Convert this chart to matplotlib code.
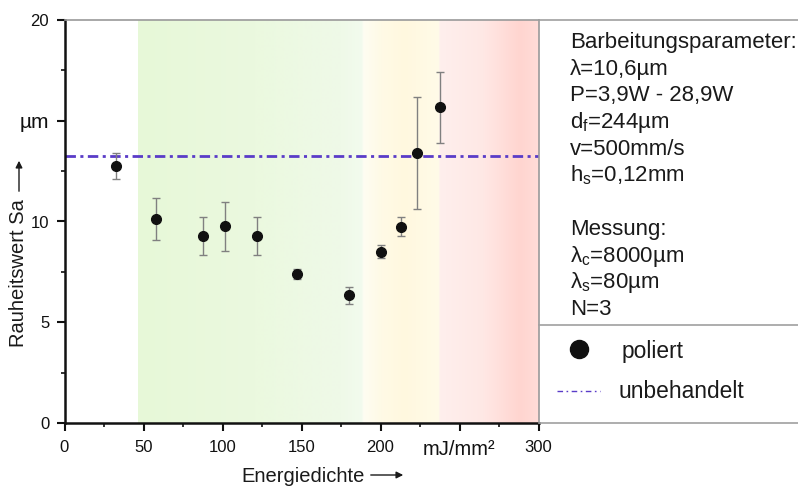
import numpy as np
import matplotlib
matplotlib.use("Agg")
import matplotlib.pyplot as plt
from matplotlib.lines import Line2D
from matplotlib.colors import to_rgb

plt.rcParams['font.family'] = ['Liberation Sans', 'DejaVu Sans']
plt.rcParams['mathtext.fontset'] = 'custom'
plt.rcParams['mathtext.rm'] = 'Liberation Sans'
plt.rcParams['lines.scale_dashes'] = False

# ---------------- data ----------------
energy = [32.4, 58.1, 87.8, 101.4, 122.0, 147.0, 179.9, 200.1, 213.2, 222.9, 237.4]
sa_polished = [12.77, 10.11, 9.27, 9.76, 9.27, 7.39, 6.35, 8.50, 9.74, 13.40, 15.67]
sa_err = [0.65, 1.05, 0.93, 1.20, 0.93, 0.25, 0.42, 0.31, 0.48, 2.78, 1.76]
sa_untreated = 13.27

xticks = [0, 50, 100, 150, 200, 250, 300]
xticklabels = ['0', '50', '100', '150', '200', 'mJ/mm²', '300']
yticks = [0, 5, 10, 15, 20]
yticklabels = ['0', '5', '10', 'µm', '20']

param_lines = [
    'Barbeitungsparameter:',
    'λ=10,6µm',
    'P=3,9W - 28,9W',
    r'd$_\mathregular{f}$=244µm',
    'v=500mm/s',
    r'h$_\mathregular{s}$=0,12mm',
    '',
    'Messung:',
    r'λ$_\mathregular{c}$=8000µm',
    r'λ$_\mathregular{s}$=80µm',
    'N=3',
]

# background zones (x stops and colours)
bg_x = [46.3, 120, 175, 188, 189, 200, 215, 236.5, 237.5, 265, 288, 300]
bg_c = ['#e7f8d8', '#ebf9df', '#eff9e8', '#f2fbee', '#fefdf2', '#fffae6',
        '#fff8df', '#fffbe8', '#feefed', '#ffe8e5', '#ffd5d0', '#ffdcd8']

W, H = 798, 486
fig = plt.figure(figsize=(W / 100, H / 100), dpi=100)
ax = fig.add_axes([64.5 / W, 1 - 423 / H, (538.5 - 64.5) / W, (423 - 20) / H])

# gradient background
xs = np.linspace(bg_x[0], bg_x[-1], 800)
rgb = np.array([to_rgb(c) for c in bg_c])
img = np.stack([np.interp(xs, bg_x, rgb[:, k]) for k in range(3)], axis=-1)[None, :, :]
ax.imshow(img, extent=[bg_x[0], bg_x[-1], 0, 20], aspect='auto', zorder=0,
          interpolation='bilinear')

# untreated reference line
ax.axhline(sa_untreated, color='#5a3cc8', lw=2.0, dashes=(7.5, 3.2, 2.2, 3.2), zorder=2)

# polished points
ax.errorbar(energy, sa_polished, yerr=sa_err, fmt='o', color='#111111',
            ms=7, ecolor='#808080', elinewidth=1, capsize=3, capthick=1, zorder=3)

ax.set_xlim(0, 300)
ax.set_ylim(0, 20)
ax.set_xticks(xticks)
ax.set_xticklabels(xticklabels)
ax.set_yticks(yticks)
ax.set_yticklabels(yticklabels)
ax.set_xticks([25, 75, 125, 175, 225, 275], minor=True)
ax.set_yticks([2.5, 7.5, 12.5, 17.5], minor=True)
ax.tick_params(which='major', direction='out', length=6, width=1.5, labelsize=12,
               colors='#111111', pad=5)
ax.tick_params(which='minor', direction='out', length=3, width=1.2, colors='#111111')
ax.tick_params(axis='x', pad=6)
for lab in ax.get_yticklabels():
    if lab.get_text() == 'µm':
        lab.set_fontsize(15)
for lab in ax.get_xticklabels():
    if lab.get_text() == 'mJ/mm²':
        lab.set_fontsize(14.5)

for s in ['left', 'bottom']:
    ax.spines[s].set_linewidth(1.8)
    ax.spines[s].set_color('#111111')
ax.spines['top'].set_color('#9a9a9a')
ax.spines['top'].set_linewidth(1.2)
ax.spines['right'].set_color('#9a9a9a')
ax.spines['right'].set_linewidth(1.2)

# right panel lines
for ypix in [20, 325, 423]:
    yf = 1 - ypix / H
    fig.add_artist(Line2D([538.5 / W, 1.0], [yf, yf], transform=fig.transFigure,
                          color='#a0a0a0', lw=1.2))

# parameter text
base0 = 48
step = 26.7
for i, t in enumerate(param_lines):
    if t:
        fig.text(570 / W, 1 - (base0 + i * step) / H, t, fontsize=16,
                 va='baseline', ha='left', color='#1a1a1a')

# legend
fig.add_artist(Line2D([579 / W], [1 - 349 / H], transform=fig.transFigure,
                      marker='o', color='#111111', ms=13, ls='none'))
fig.text(622 / W, 1 - 358 / H, 'poliert', fontsize=16.4, va='baseline', color='#1a1a1a')
fig.add_artist(Line2D([557 / W, 600 / W], [1 - 391 / H, 1 - 391 / H],
                      transform=fig.transFigure, color='#5a3cc8', lw=1,
                      dashes=(4, 2.5, 1.2, 2.5)))
fig.text(619 / W, 1 - 398 / H, 'unbehandelt', fontsize=16.4, va='baseline', color='#1a1a1a')

# axis labels with arrows
fig.text(19 / W, 1 - 347 / H, 'Rauheitswert Sa', rotation=90, fontsize=14.5,
         ha='center', va='bottom', color='#1a1a1a')
ax.annotate('', xy=(19, H - 158), xytext=(19, H - 194), xycoords='figure pixels',
            textcoords='figure pixels',
            arrowprops=dict(arrowstyle='-|>', lw=1, color='#1a1a1a', mutation_scale=10))
fig.text(241.5 / W, 1 - 482 / H, 'Energiedichte', fontsize=14.5, ha='left',
         va='baseline', color='#1a1a1a')
ax.annotate('', xy=(406, H - 475), xytext=(368, H - 475), xycoords='figure pixels',
            textcoords='figure pixels',
            arrowprops=dict(arrowstyle='-|>', lw=1, color='#1a1a1a', mutation_scale=10))

fig.savefig('out.png', dpi=100)
